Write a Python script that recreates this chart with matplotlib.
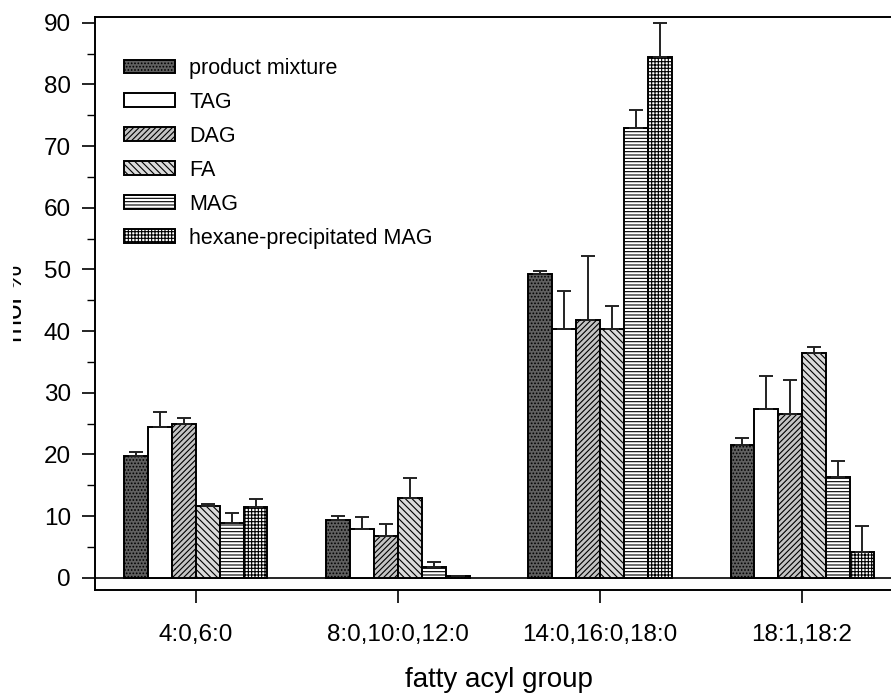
import numpy as np
import matplotlib.pyplot as plt
from matplotlib.ticker import MultipleLocator
from matplotlib.transforms import Bbox

plt.rcParams['font.family'] = ['Liberation Sans', 'DejaVu Sans']
plt.rcParams['hatch.linewidth'] = 0.8

groups = ['4:0,6:0', '8:0,10:0,12:0', '14:0,16:0,18:0', '18:1,18:2']
series = ['product mixture', 'TAG', 'DAG', 'FA', 'MAG', 'hexane-precipitated MAG']

# mol % per series, one value per fatty acyl group
product_mixture = [19.8, 9.3, 49.2, 21.6]
tag = [24.5, 7.9, 40.4, 27.3]
dag = [24.9, 6.8, 41.8, 26.6]
fa = [11.7, 12.9, 40.4, 36.5]
mag = [8.8, 1.7, 73.0, 16.3]
hex_mag = [11.4, 0.2, 84.5, 4.1]

# standard deviations (upper error bars only)
product_mixture_err = [0.65, 0.7, 0.55, 1.0]
tag_err = [2.4, 2.0, 6.05, 5.35]
dag_err = [1.05, 1.85, 10.4, 5.45]
fa_err = [0.33, 3.25, 3.6, 1.0]
mag_err = [1.75, 0.77, 2.9, 2.65]
hex_mag_err = [1.4, 0.0, 5.5, 4.3]

values = [product_mixture, tag, dag, fa, mag, hex_mag]
errors = [product_mixture_err, tag_err, dag_err, fa_err, mag_err, hex_mag_err]

styles = [
    dict(facecolor='#606060', hatch='.....'),
    dict(facecolor='white', hatch=None),
    dict(facecolor='#c4c4c4', hatch='//////'),
    dict(facecolor='#dadada', hatch='\\\\\\\\\\'),
    dict(facecolor='white', hatch='-----'),
    dict(facecolor='white', hatch='+++++'),
]

fig = plt.figure(figsize=(8.91, 6.95), dpi=100)
ax = fig.add_axes([0.1066, 0.151, 0.9069, 0.825])

x = np.arange(len(groups))
w = 0.118
for i, (vals, errs, st) in enumerate(zip(values, errors, styles)):
    pos = x + (i - 2.5) * w
    ax.bar(pos, vals, w, edgecolor='black', linewidth=1.4, label=series[i], **st)
    ax.errorbar(pos, vals, yerr=[np.zeros(len(errs)), errs], fmt='none',
                ecolor='#222222', elinewidth=1.4, capsize=5, capthick=1.4)

ax.axhline(0, color='black', linewidth=1.2, zorder=0.5)
ax.set_xlim(-0.5, 3.5)
ax.set_ylim(-2, 91)
ax.yaxis.set_major_locator(MultipleLocator(10))
ax.yaxis.set_minor_locator(MultipleLocator(5))
ax.set_xticks(x)
ax.set_xticklabels(groups)
ax.tick_params(axis='both', which='major', direction='out', length=9.4, width=1.2,
               labelsize=17.5)
ax.tick_params(axis='x', pad=15)
ax.tick_params(axis='y', pad=8)
ax.tick_params(axis='y', which='minor', direction='out', length=5.8, width=1.0)
for sp in ax.spines.values():
    sp.set_linewidth(1.4)

ax.set_xlabel('fatty acyl group', fontsize=20, labelpad=15)

# y label sits partly outside the cropped picture
ylab = fig.text(22 / 891, 1 - 303 / 695, 'mol %', rotation=90, rotation_mode='anchor',
                ha='center', va='baseline', fontsize=20)
ylab.set_clip_box(Bbox.from_extents(12.7, 0, 891, 695))
ylab.set_clip_on(True)

ax.legend(loc='upper left', bbox_to_anchor=(0.036, 0.928), frameon=False, fontsize=15.5,
          handlelength=2.37, handleheight=0.6, labelspacing=0.6, handletextpad=0.65,
          borderaxespad=0, borderpad=0)

fig.savefig('out.png', dpi=100)
